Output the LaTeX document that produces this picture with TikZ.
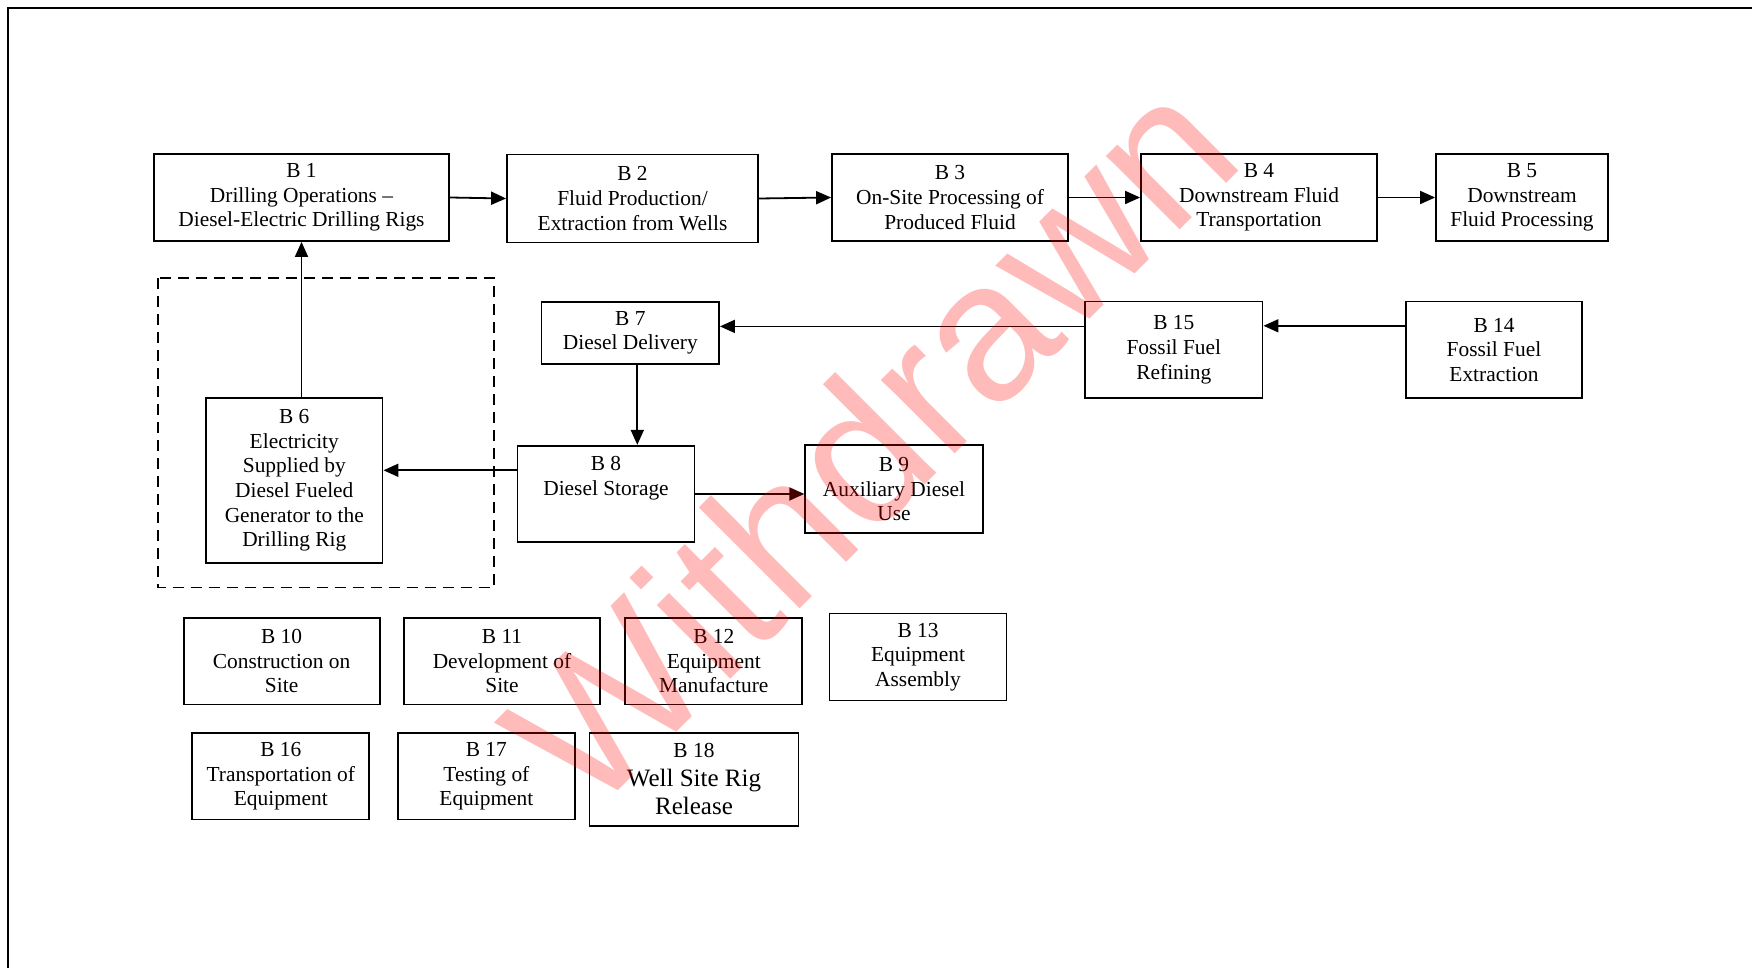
\documentclass[tikz,border=0pt]{standalone}
\usepackage{fontspec}
\setmainfont{Liberation Serif}
\newfontfamily\wmfont{Liberation Sans}
\usetikzlibrary{arrows.meta}

\tikzset{
  blk/.style={draw, align=center, inner sep=0pt,
    font=\fontsize{21.4}{24.6}\selectfont},
}

\begin{document}
\begin{tikzpicture}[x=1pt, y=-1pt, line width=1.8pt,
  >={Triangle[length=15pt,width=13pt]}]
\useasboundingbox (0,0) rectangle (1752,968);
\draw[line width=2pt] (8,968) -- (8,8) -- (1752,8);
% top row
\node[blk, minimum width=295pt, minimum height=87pt] (b1) at (301.5,197.5) {B 1\\Drilling Operations –\\Diesel-Electric Drilling Rigs};
\node[blk, minimum width=251pt, minimum height=88pt] (b2) at (632.5,198.5) {B 2\\Fluid Production/\\Extraction from Wells};
\node[blk, minimum width=236pt, minimum height=87pt] (b3) at (950,197.5) {B 3\\On-Site Processing of\\Produced Fluid};
\node[blk, minimum width=236pt, minimum height=87pt] (b4) at (1259,197.5) {B 4\\Downstream Fluid\\Transportation};
\node[blk, minimum width=172pt, minimum height=87pt] (b5) at (1522,197.5) {B 5\\Downstream\\Fluid Processing};
% diesel chain
\node[blk, minimum width=177.5pt, minimum height=62pt] (b7) at (630.3,333) {B 7\\Diesel Delivery};
\node[blk, minimum width=177.5pt, minimum height=96.5pt] (b15) at (1173.8,349.8) {B 15\\Fossil Fuel\\Refining};
\node[blk, minimum width=176.5pt, minimum height=96.5pt] (b14) at (1494,349.8) {B 14\\Fossil Fuel\\Extraction};
\node[blk, minimum width=176.5pt, minimum height=165pt] (b6) at (294.3,480.5) {B 6\\Electricity\\Supplied by\\Diesel Fueled\\Generator to the\\Drilling Rig};
\node[blk, minimum width=177pt, minimum height=96.5pt] (b8) at (606,494) {B 8\\Diesel Storage\\[12pt]~};
\node[blk, minimum width=177.7pt, minimum height=87.7pt] (b9) at (894,489.2) {B 9\\Auxiliary Diesel\\Use};
\draw[dash pattern=on 11pt off 7pt] (158,278) rectangle (494,587.5);
% loose boxes
\node[blk, minimum width=196pt, minimum height=86.5pt] (b10) at (281.6,661.3) {B 10\\Construction on\\Site};
\node[blk, minimum width=196pt, minimum height=86.5pt] (b11) at (502,661.3) {B 11\\Development of\\Site};
\node[blk, minimum width=177pt, minimum height=86.5pt] (b12) at (713.8,661.3) {B 12\\Equipment\\Manufacture};
\node[blk, minimum width=177pt, minimum height=87pt] (b13) at (918,657) {B 13\\Equipment\\Assembly};
\node[blk, minimum width=177pt, minimum height=86.5pt] (b16) at (280.8,776.3) {B 16\\Transportation of\\Equipment};
\node[blk, minimum width=177pt, minimum height=86.5pt] (b17) at (486.4,776.3) {B 17\\Testing of\\Equipment};
\node[blk, minimum width=209pt, minimum height=93pt, font=\fontsize{25}{28.5}\selectfont] (b18) at (694,779.4) {{\fontsize{21.4}{24.6}\selectfont B 18}\\Well Site Rig\\Release};
% arrows
\draw[->] (b1.east) -- (b2.west);
\draw[->] (b2.east) -- (b3.west);
\draw[->] (b3.east) -- (b4.west);
\draw[->] (b4.east) -- (b5.west);
\draw[->] (b6.north -| b1.south) -- (b1.south);
\draw[->] ([yshift=6.6pt]b7.east -| b15.west) -- ([yshift=6.6pt]b7.east);
\draw[->] ([yshift=24pt]b14.west) -- ([yshift=24pt]b15.east);
\draw[->] ([xshift=7pt]b7.south) -- ([xshift=7pt]b7.south |- b8.north);
\draw[->] ([yshift=23.7pt]b8.west) -- ([yshift=23.7pt]b8.west -| b6.east);
\draw[->] (b8.east) -- (b8.east -| b9.west);
% watermark
\node[font=\wmfont\fontsize{197}{197}\selectfont, text=red, text opacity=0.27,
  rotate=45, inner sep=0pt] (wm) at (869,441) {Withdrawn};
\end{tikzpicture}
\end{document}
